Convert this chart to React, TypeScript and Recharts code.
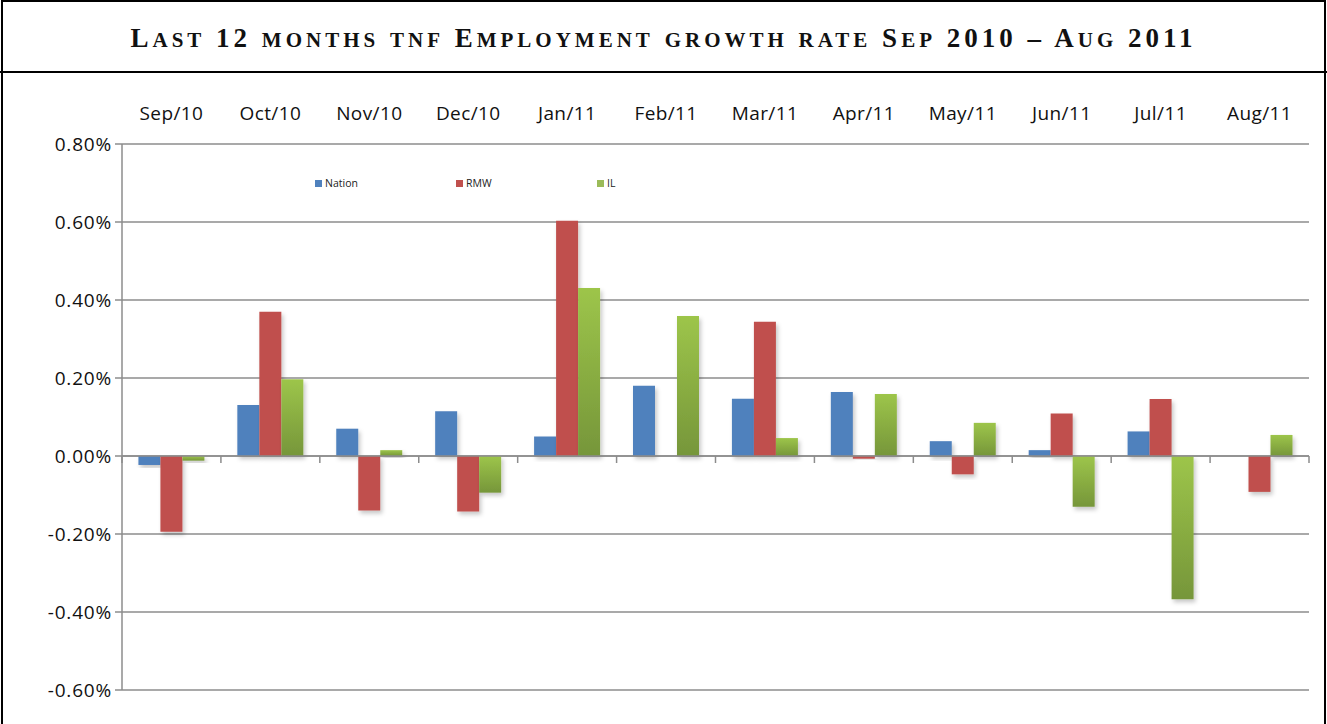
import React from 'react';
import {
  BarChart,
  Bar,
  XAxis,
  YAxis,
  CartesianGrid,
  ReferenceLine,
} from 'recharts';

const months = ['Sep/10', 'Oct/10', 'Nov/10', 'Dec/10', 'Jan/11', 'Feb/11', 'Mar/11', 'Apr/11', 'May/11', 'Jun/11', 'Jul/11', 'Aug/11'];
const nation = [-0.023, 0.131, 0.07, 0.115, 0.05, 0.18, 0.147, 0.164, 0.038, 0.015, 0.063, 0];
const rmw = [-0.194, 0.37, -0.14, -0.142, 0.603, 0, 0.344, -0.007, -0.047, 0.109, 0.146, -0.092];
const il = [-0.012, 0.197, 0.015, -0.094, 0.431, 0.359, 0.046, 0.159, 0.085, -0.13, -0.367, 0.054];
const yTicks = [-0.6, -0.4, -0.2, 0, 0.2, 0.4, 0.6, 0.8];
const title = 'Last 12 months tnf Employment growth rate Sep 2010 – Aug 2011';

const data = months.map((m, i) => ({ month: m, Nation: nation[i], RMW: rmw[i], IL: il[i] }));

const axisGray = '#8c8c8c';
const labelFont = '"Open Sans", "Liberation Sans", sans-serif';

// tick marks along the zero line, one per category boundary
function ZeroTicks(props: any) {
  const vb = props.viewBox;
  if (!vb) return null;
  const step = vb.width / months.length;
  return (
    <g>
      {Array.from({ length: months.length + 1 }, (_, i) => (
        <line
          key={i}
          x1={vb.x + i * step}
          x2={vb.x + i * step}
          y1={vb.y}
          y2={vb.y + 7}
          stroke={axisGray}
          strokeWidth={1.5}
        />
      ))}
    </g>
  );
}

function MonthTick({ x, y, payload }: any) {
  return (
    <text x={x} y={y} textAnchor="middle" fontSize={19} letterSpacing={0.4} fill="#111" fontFamily={labelFont}>
      {payload.value}
    </text>
  );
}

const legendItems = [
  { name: 'Nation', color: '#4F81BD' },
  { name: 'RMW', color: '#C0504D' },
  { name: 'IL', color: '#9BBB59' },
];

function LegendBox() {
  return (
    <div
      style={{
        position: 'absolute',
        left: 315,
        top: 176,
        display: 'flex',
        fontFamily: labelFont,
        fontSize: 10.5,
        color: '#222',
      }}
    >
      {legendItems.map((it) => (
        <div key={it.name} style={{ width: 141, display: 'flex', alignItems: 'center' }}>
          <span style={{ width: 7, height: 7, background: it.color, marginRight: 3, display: 'inline-block' }} />
          {it.name}
        </div>
      ))}
    </div>
  );
}

// lowercase runs get a bigger size so the synthesized small caps come out larger
function SmallCapsTitle() {
  const parts = title.match(/[a-z]+|[^a-z]+/g) || [];
  return (
    <span>
      {parts.map((p, i) =>
        /[a-z]/.test(p) ? (
          <span key={i} style={{ fontSize: 30 }}>
            {p}
          </span>
        ) : (
          <span key={i}>{p}</span>
        )
      )}
    </span>
  );
}

export default function App() {
  return (
    <div
      style={{
        position: 'absolute',
        left: 0,
        top: 0,
        width: 1327,
        height: 724,
        background: '#fff',
        overflow: 'hidden',
      }}
    >
      <div
        style={{
          position: 'absolute',
          left: 1,
          top: 0,
          width: 1321,
          height: 724,
          borderLeft: '2px solid #000',
          borderRight: '2px solid #000',
          borderTop: '2px solid #000',
        }}
      />
      <div
        style={{
          position: 'absolute',
          left: 0,
          top: 2,
          width: 1327,
          height: 69,
          borderBottom: '2px solid #000',
          display: 'flex',
          alignItems: 'center',
          justifyContent: 'center',
          fontFamily: '"Liberation Serif", "DejaVu Serif", serif',
          fontWeight: 'bold',
          fontVariant: 'small-caps',
          fontSize: 27,
          letterSpacing: 4,
          color: '#111',
        }}
      >
        <SmallCapsTitle />
      </div>
      <div style={{ position: 'absolute', left: 0, top: 72 }}>
        <BarChart
          width={1327}
          height={652}
          data={data}
          margin={{ top: 22, right: 18, bottom: 34, left: 0 }}
          barCategoryGap="16.6%"
          barGap={0}
        >
          <defs>
            <linearGradient id="ilGrad" x1="0" y1="0" x2="0" y2="1">
              <stop offset="0%" stopColor="#9DC54A" />
              <stop offset="100%" stopColor="#76963A" />
            </linearGradient>
            <filter id="shadow" x="-20%" y="-20%" width="150%" height="150%">
              <feDropShadow dx="2" dy="3" stdDeviation="2" floodColor="#000" floodOpacity="0.22" />
            </filter>
          </defs>
          <CartesianGrid horizontal vertical={false} stroke={axisGray} strokeWidth={1.5} />
          <XAxis
            dataKey="month"
            orientation="top"
            height={50}
            axisLine={false}
            tickLine={false}
            tick={<MonthTick />}
            tickMargin={18}
            interval={0}
          />
          <YAxis
            domain={[-0.6, 0.8]}
            ticks={yTicks}
            width={122}
            tickFormatter={(v: number) => v.toFixed(2) + '%'}
            tick={{ fontSize: 19, fill: '#111', fontFamily: labelFont, letterSpacing: 0.8 }}
            axisLine={{ stroke: axisGray, strokeWidth: 1.5 }}
            tickLine={{ stroke: axisGray, strokeWidth: 1.5 }}
            tickSize={7}
            tickMargin={3}
            allowDataOverflow
          />
          <Bar dataKey="Nation" fill="#4F81BD" filter="url(#shadow)" isAnimationActive={false} />
          <Bar dataKey="RMW" fill="#C0504D" filter="url(#shadow)" isAnimationActive={false} />
          <Bar dataKey="IL" fill="url(#ilGrad)" filter="url(#shadow)" isAnimationActive={false} />
          <ReferenceLine y={0} stroke={axisGray} strokeWidth={1.5} label={<ZeroTicks />} />
        </BarChart>
      </div>
      <LegendBox />
    </div>
  );
}
